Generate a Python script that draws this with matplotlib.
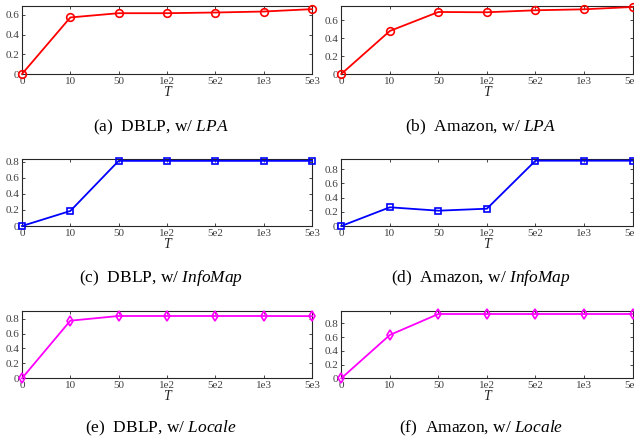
import matplotlib
matplotlib.use("Agg")
import matplotlib.pyplot as plt

plt.rcParams["mathtext.fontset"] = "custom"
plt.rcParams["mathtext.it"] = "Liberation Serif:italic"
plt.rcParams["mathtext.rm"] = "Liberation Serif"

T_labels = ["0", "10", "50", "1e2", "5e2", "1e3", "5e3"]

dblp_lpa = [0.0, 0.574, 0.617, 0.617, 0.624, 0.634, 0.658]
amazon_lpa = [0.0, 0.481, 0.693, 0.690, 0.712, 0.723, 0.749]
dblp_infomap = [0.0, 0.187, 0.81, 0.81, 0.81, 0.81, 0.81]
amazon_infomap = [0.0, 0.264, 0.216, 0.244, 0.921, 0.921, 0.921]
dblp_locale = [0.0, 0.773, 0.836, 0.836, 0.836, 0.836, 0.834]
amazon_locale = [0.0, 0.63, 0.935, 0.935, 0.935, 0.935, 0.935]

ylims = [0.69, 0.76, 0.833, 0.945, 0.907, 0.983]
captions_pre = ["(a)  DBLP, w/ ", "(b)  Amazon, w/ ", "(c)  DBLP, w/ ",
                "(d)  Amazon, w/ ", "(e)  DBLP, w/ ", "(f)  Amazon, w/ "]
methods = ["LPA", "LPA", "InfoMap", "InfoMap", "Locale", "Locale"]
series = [dblp_lpa, amazon_lpa, dblp_infomap, amazon_infomap, dblp_locale, amazon_locale]
colors = ["#ff0000", "#ff0000", "#0000ff", "#0000ff", "#ff00ff", "#ff00ff"]
markers = ["o", "o", "s", "s", "d", "d"]

W, H = 634, 445
fig = plt.figure(figsize=(W / 100, H / 100), dpi=100)

cols = [(22, 312), (341.3, 632.5)]
rows = [(6, 74), (159, 226), (310.7, 378.3)]
cap_y = [127, 278, 428]

serif = ["Liberation Serif", "DejaVu Serif"]

for i in range(6):
    r, c = divmod(i, 2)
    x0, x1 = cols[c]
    t, b = rows[r]
    ax = fig.add_axes([x0 / W, 1 - b / H, (x1 - x0) / W, (b - t) / H])
    xs = list(range(len(T_labels)))
    ax.plot(xs, series[i], color=colors[i], marker=markers[i], lw=1.3,
            markersize=5.5 if markers[i] != "s" else 4.5, markerfacecolor="none",
            markeredgewidth=1.2, clip_on=False, zorder=5)
    ax.set_xlim(0, 6)
    ax.set_ylim(0, ylims[i])
    ax.set_xticks(xs)
    ax.set_xticklabels(T_labels)
    top = ylims[i]
    yt = [k * 0.2 for k in range(int(top / 0.2 + 1e-9) + 1)]
    ax.set_yticks(yt)
    ax.set_yticklabels(["0"] + [f"{v:.1f}" for v in yt[1:]])
    ax.tick_params(direction="in", length=2.5, width=0.6, labelsize=8,
                   colors="#262626", pad=2, top=True, right=True, labeltop=False, labelright=False)
    for lab in ax.get_xticklabels() + ax.get_yticklabels():
        lab.set_family(serif)
        lab.set_color("#404040")
    for s in ax.spines.values():
        s.set_color("#262626")
        s.set_linewidth(0.8)
    ax.set_xlabel("T", fontsize=10, family=serif, style="italic", labelpad=0, color="#262626")
    cx = (x0 + x1) / 2 - 6
    fig.text(cx / W, 1 - cap_y[r] / H, captions_pre[i] + r"$\mathit{" + methods[i] + "}$",
             ha="center", va="center", fontsize=12.5, family=serif)

fig.savefig("out.png", dpi=100)
